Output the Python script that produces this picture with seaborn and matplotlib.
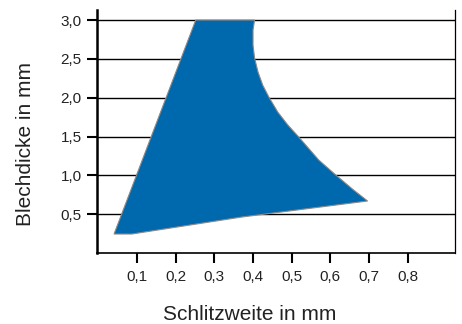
import numpy as np
import seaborn as sns
import matplotlib.pyplot as plt

# outline of the working range (Schlitzweite, Blechdicke)
schlitzweite = [0.041, 0.087, 0.370, 0.696, 0.660, 0.614, 0.570, 0.516,
                0.490, 0.464, 0.441, 0.425, 0.413, 0.404, 0.400, 0.400,
                0.404, 0.252]
blechdicke = [0.245, 0.245, 0.463, 0.670, 0.811, 1.004, 1.197, 1.506,
              1.648, 1.815, 2.008, 2.163, 2.330, 2.511, 2.678, 2.871,
              3.000, 3.000]

x_ticks = [0.1, 0.2, 0.3, 0.4, 0.5, 0.6, 0.7, 0.8]
y_ticks = [0.5, 1.0, 1.5, 2.0, 2.5, 3.0]

sns.set_style("ticks")
plt.rcParams['font.family'] = ['Liberation Sans', 'DejaVu Sans']

fig = plt.figure(figsize=(4.62, 3.24), dpi=100)
ax = fig.add_axes([0.21, 0.219, 0.775, 0.75])

ax.fill(schlitzweite, blechdicke, facecolor="#0068AC", edgecolor="#8a8a8a",
        linewidth=0.8, zorder=3)

ax.set_xlim(-0.003, 0.922)
ax.set_ylim(0, 3.129)
ax.set_xticks(x_ticks)
ax.set_yticks(y_ticks)
ax.set_xticklabels([f"{v:.1f}".replace(".", ",") for v in x_ticks], fontsize=11)
ax.set_yticklabels([f"{v:.1f}".replace(".", ",") for v in y_ticks], fontsize=11)

for v in y_ticks:
    ax.axhline(v, color="black", linewidth=1.0, zorder=1)

ax.spines["top"].set_visible(False)
ax.spines["left"].set_linewidth(1.8)
ax.spines["bottom"].set_linewidth(1.2)
ax.spines["right"].set_linewidth(0.9)
for s in ["left", "bottom", "right"]:
    ax.spines[s].set_color("black")
ax.tick_params(axis="both", direction="out", length=7, width=1.5, color="black",
               labelcolor="#222222")
ax.tick_params(axis="y", pad=4)
ax.tick_params(axis="x", pad=5)

ax.set_xlabel("Schlitzweite in mm", fontsize=15, color="#222222")
ax.set_ylabel("Blechdicke in mm", fontsize=15, color="#222222")
ax.xaxis.set_label_coords(0.427, -0.212)
ax.yaxis.set_label_coords(-0.172, 0.45)

fig.savefig("out.png", dpi=100)
